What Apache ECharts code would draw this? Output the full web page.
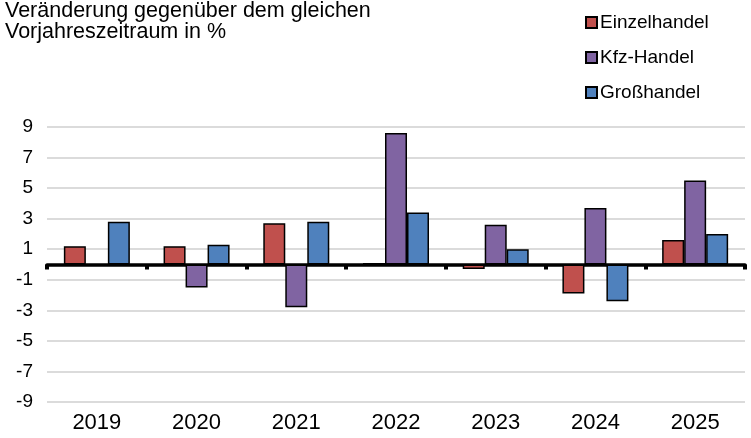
<!DOCTYPE html>
<html>
<head>
    <meta charset="utf-8">
    <title>Handel</title>
    <script src="https://cdn.jsdelivr.net/npm/echarts@6/dist/echarts.min.js"></script>
    <style>
        * { margin: 0; padding: 0; }
        body { background: #fff; }
    </style>
</head>
<body>
    <div id="main" style="width:751px;height:438px;"></div>
    <script type="text/javascript">
        // Daten
        var years = ['2019', '2020', '2021', '2022', '2023', '2024', '2025'];
        var einzelhandel = [1.2, 1.2, 2.7, 0.1, -0.3, -1.9, 1.6];
        var kfzHandel = [null, -1.5, -2.8, 8.6, 2.6, 3.7, 5.5];
        var grosshandel = [2.8, 1.3, 2.8, 3.4, 1.0, -2.4, 2.0];
        var yTicks = [-9, -7, -5, -3, -1, 1, 3, 5, 7, 9];

        var font = 'Liberation Sans, Arial, sans-serif';
        var myChart = echarts.init(document.getElementById('main'));

        function bar(name, data, color) {
            return {
                name: name,
                type: 'bar',
                data: data,
                xAxisIndex: 0,
                barWidth: 22,
                barGap: '0%',
                itemStyle: { color: color, borderColor: '#000', borderWidth: 1.5 }
            };
        }

        var option = {
            animation: false,
            backgroundColor: '#fff',
            textStyle: { fontFamily: font },
            title: {
                text: 'Veränderung gegenüber dem gleichen\nVorjahreszeitraum in %',
                left: 0,
                top: -4,
                textStyle: { fontSize: 21.5, fontWeight: 'normal', color: '#000', lineHeight: 21, fontFamily: font }
            },
            legend: {
                orient: 'vertical',
                left: 580,
                top: 8,
                itemWidth: 11,
                itemHeight: 11,
                itemGap: 16,
                icon: 'rect',
                textStyle: { fontSize: 19, color: '#000', padding: [0, 0, 0, -2], lineHeight: 19, fontFamily: font },
                data: ['Einzelhandel', 'Kfz-Handel', 'Großhandel']
            },
            grid: { left: 47, right: 6, top: 127, bottom: 36 },
            xAxis: [{
                type: 'category',
                data: years,
                axisLine: { onZero: true, lineStyle: { color: '#000', width: 3.5 } },
                axisTick: { show: true, length: 5, lineStyle: { color: '#000', width: 4 } },
                axisLabel: { show: false }
            }, {
                type: 'category',
                data: years,
                position: 'bottom',
                axisLine: { show: false, onZero: false },
                axisTick: { show: false },
                axisLabel: { fontSize: 22, color: '#000', margin: 10, fontFamily: font }
            }],
            yAxis: {
                type: 'value',
                min: -9,
                max: 9,
                interval: 1,
                axisLine: { show: false },
                axisTick: { show: false, customValues: yTicks },
                axisLabel: { fontSize: 19, color: '#000', margin: 14, customValues: yTicks, fontFamily: font },
                splitLine: { lineStyle: { color: '#cfcfcf', width: 1.5 } }
            },
            series: [
                bar('Einzelhandel', einzelhandel, '#C0504D'),
                bar('Kfz-Handel', kfzHandel, '#8064A2'),
                bar('Großhandel', grosshandel, '#4F81BD')
            ]
        };
        myChart.setOption(option);
    </script>
</body>
</html>
